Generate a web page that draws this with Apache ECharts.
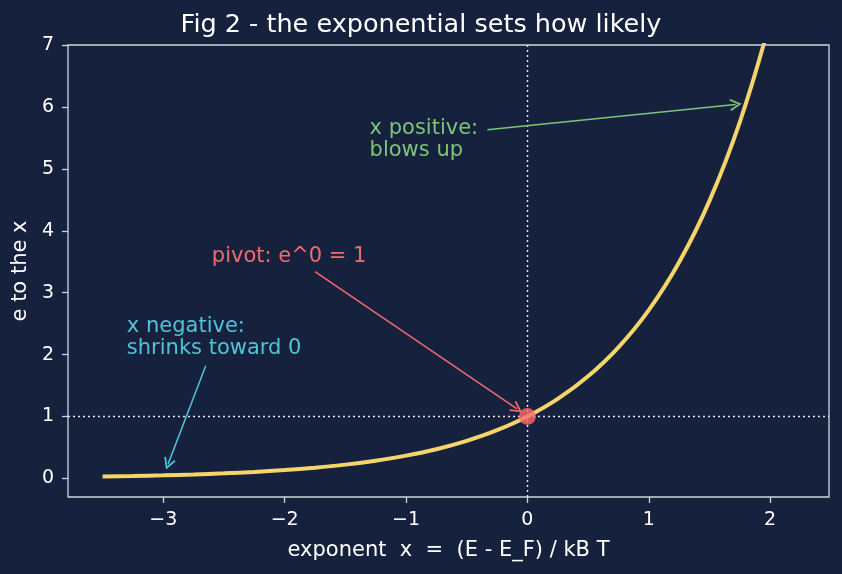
<!DOCTYPE html>
<html><head><meta charset="utf-8">
<script src="https://cdn.jsdelivr.net/npm/echarts@6/dist/echarts.min.js"></script>
<style>html,body{margin:0;padding:0;background:#16213e;}#c{width:842px;height:574px;}</style>
</head><body><div id="c"></div>
<script>
// exponent x and the read-off value of e^x
const xs = [-3.5,-3.25,-3.0,-2.75,-2.5,-2.25,-2.0,-1.75,-1.5,-1.25,-1.0,-0.75,-0.5,-0.25,0,0.25,0.5,0.75,1.0,1.25,1.5,1.75,2.0,2.2];
const ys = [0.030,0.039,0.050,0.064,0.082,0.105,0.135,0.174,0.223,0.287,0.368,0.472,0.607,0.779,1.000,1.284,1.649,2.117,2.718,3.490,4.482,5.755,7.389,9.025];
const xTicks = [-3,-2,-1,0,1,2];
const yTicks = [0,1,2,3,4,5,6,7];
const pivot = [0, 1];
const annotations = [
  {text: 'x positive:\nblows up', color: '#7cc576', textAt: [-1.3, 5.11], from: [-0.33, 5.63], to: [1.716, 6.04]},
  {text: 'pivot: e^0 = 1', color: '#f26b6b', textAt: [-2.6, 3.40], from: [-1.75, 3.34], to: [-0.085, 1.124]},
  {text: 'x negative:\nshrinks toward 0', color: '#52c3d6', textAt: [-3.3, 1.92], from: [-2.65, 1.82], to: [-2.96, 0.235]}
];

const FONT = 'DejaVu Sans';
const frame = '#cdd6e0';
const chevron = 'path://M4,0 L8,7.3 L7,8 L4,2.4 L1,8 L0,7.3 Z';

const chart = echarts.init(document.getElementById('c'), null, {renderer: 'canvas'});
chart.setOption({
  backgroundColor: '#16213e',
  animation: false,
  textStyle: {fontFamily: FONT},
  title: {
    text: 'Fig 2 - the exponential sets how likely',
    left: 'center', top: 7,
    textStyle: {color: '#ffffff', fontFamily: FONT, fontSize: 25.5, fontWeight: 'normal'}
  },
  grid: {left: 68, right: 13, top: 45, bottom: 77, show: true, borderColor: frame, borderWidth: 1.3,
    backgroundColor: 'transparent', containLabel: false, outerBoundsMode: 'none'},
  xAxis: {
    type: 'value', min: -3.785, max: 2.485,
    name: 'exponent  x  =  (E - E_F) / kB T', nameLocation: 'middle', nameGap: 43,
    nameTextStyle: {color: '#ffffff', fontSize: 21, fontFamily: FONT},
    axisLine: {show: false, onZero: false},
    splitLine: {show: false},
    axisTick: {show: true, inside: false, customValues: xTicks, length: 6, lineStyle: {color: frame, width: 1.3}},
    axisLabel: {customValues: xTicks, color: '#ffffff', fontSize: 19, margin: 14, fontFamily: FONT,
      formatter: v => (v < 0 ? '\u2212' + Math.abs(v) : String(v))}
  },
  yAxis: {
    type: 'value', min: -0.3, max: 7,
    name: 'e to the x', nameLocation: 'middle', nameGap: 35,
    nameTextStyle: {color: '#ffffff', fontSize: 21, fontFamily: FONT},
    axisLine: {show: false, onZero: false},
    splitLine: {show: false},
    axisTick: {show: true, inside: false, customValues: yTicks, length: 6, lineStyle: {color: frame, width: 1.3}},
    axisLabel: {customValues: yTicks, color: '#ffffff', fontSize: 19, margin: 14, fontFamily: FONT}
  },
  series: [
    {
      type: 'line', data: xs.map((x, i) => [x, ys[i]]), smooth: 0.3, showSymbol: false,
      lineStyle: {color: '#f5d46a', width: 4}, clip: true, z: 3,
      markLine: {
        silent: true, symbol: 'none', animation: false, label: {show: false},
        lineStyle: {color: '#e8ecf0', type: [2, 3], width: 1.4},
        data: [{xAxis: pivot[0]}, {yAxis: pivot[1]}]
      }
    },
    {
      type: 'scatter', data: [pivot], symbolSize: 17, itemStyle: {color: '#ff6b6b'}, z: 6
    },
    {
      type: 'line', data: [], z: 4,
      markLine: {
        silent: true, animation: false, symbol: ['none', chevron], symbolSize: [12, 12],
        label: {show: false},
        data: annotations.map(a => [
          {coord: a.from, lineStyle: {color: a.color, width: 1.5, type: 'solid'}},
          {coord: a.to, itemStyle: {color: a.color}}
        ])
      },
      markPoint: {
        silent: true, animation: false, symbol: 'circle', symbolSize: 0,
        data: annotations.map(a => ({
          coord: a.textAt,
          label: {show: true, position: [0, 0], align: 'left', verticalAlign: 'bottom',
            formatter: a.text, color: a.color, fontSize: 21, lineHeight: 22, fontFamily: FONT}
        }))
      }
    }
  ]
});
</script></body></html>
